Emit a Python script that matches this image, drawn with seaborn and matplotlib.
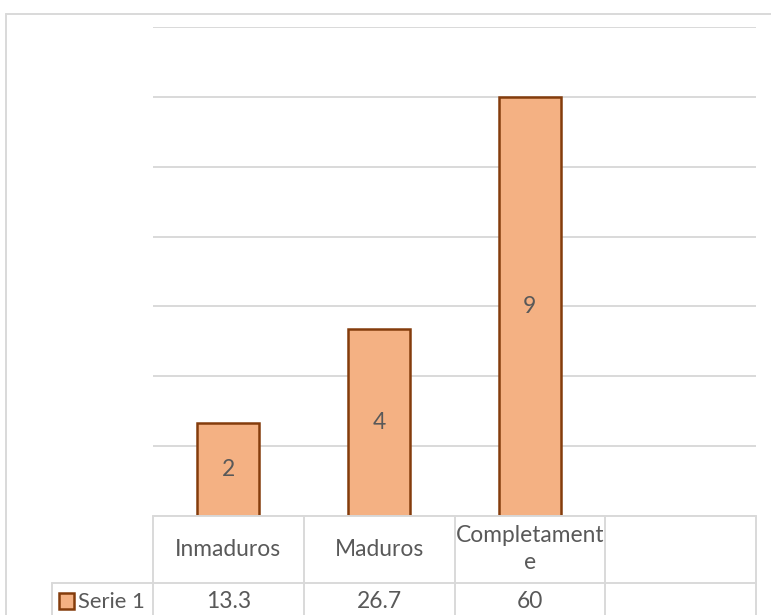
import matplotlib.pyplot as plt
import matplotlib.transforms as mtransforms
from matplotlib.lines import Line2D
from matplotlib.patches import Rectangle
import seaborn as sns

# data
categories = ["Inmaduros", "Maduros", "Completamente"]
table_labels = ["Inmaduros", "Maduros", "Completament\ne"]
percent = [13.3, 26.7, 60]
counts = [2, 4, 9]
series_name = "Serie 1"

FILL = "#F4B183"
EDGE = "#843C0C"
GRID = "#D9D9D9"
TEXT = "#595959"
FS = 16.4

sns.set_theme(style="white")
plt.rcParams["font.family"] = ["Lato", "DejaVu Sans"]

W, H = 771, 615
fig = plt.figure(figsize=(W / 100, H / 100), dpi=100)


def fx(px):
    return px / W


def fy(py):
    return 1 - py / H


ax = fig.add_axes([fx(153), fy(516), fx(756) - fx(153), fy(27) - fy(516)])

sns.barplot(x=categories, y=percent, ax=ax, color=FILL, saturation=1,
            edgecolor=EDGE, linewidth=1.8, width=0.41)
ax.bar_label(ax.containers[0], labels=[str(c) for c in counts],
             label_type="center", color=TEXT, fontsize=FS)

ax.set_xlim(-0.5, 3.5)
ax.set_ylim(0, 70)
ax.set_yticks(range(0, 71, 10))
ax.set_xticks([])
ax.grid(axis="y", color=GRID, linewidth=1.4)
ax.set_axisbelow(True)
ax.tick_params(left=False, labelleft=False, bottom=False, labelbottom=False)
ax.set_xlabel("")
ax.set_ylabel("")
for s in ax.spines.values():
    s.set_visible(False)

# data table under the plot
blend = mtransforms.blended_transform_factory(ax.transData, fig.transFigure)
bounds = [i - 0.5 for i in range(len(categories) + 2)]
line_kw = dict(color=GRID, linewidth=1.4, clip_on=False)

fig.add_artist(Line2D([bounds[0], bounds[-1]], [fy(516), fy(516)], transform=blend, **line_kw))
fig.add_artist(Line2D([bounds[0], bounds[-1]], [fy(583), fy(583)], transform=blend, **line_kw))
fig.add_artist(Line2D([fx(52), fx(153)], [fy(583), fy(583)], transform=fig.transFigure, **line_kw))
fig.add_artist(Line2D([fx(52), fx(52)], [fy(583), 0], transform=fig.transFigure, **line_kw))
for b in bounds:
    fig.add_artist(Line2D([b, b], [fy(516), 0], transform=blend, **line_kw))

for i, (lab, val) in enumerate(zip(table_labels, percent)):
    fig.text(i, fy(549), lab, transform=blend, ha="center", va="center",
             color=TEXT, fontsize=FS, linespacing=1.35)
    fig.text(i, fy(602), f"{val:g}", transform=blend, ha="center", va="center",
             color=TEXT, fontsize=FS)

# legend key in the table
fig.add_artist(Rectangle((fx(59), fy(609)), fx(74) - fx(59), fy(593) - fy(609),
                         transform=fig.transFigure, facecolor=FILL, edgecolor=EDGE,
                         linewidth=1.8))
fig.text(fx(78), fy(602), series_name, ha="left", va="center", color=TEXT, fontsize=15.8)

# chart area border (left and top visible)
fig.add_artist(Line2D([fx(6), fx(6)], [fy(14), 0], transform=fig.transFigure, **line_kw))
fig.add_artist(Line2D([fx(6), 1], [fy(14), fy(14)], transform=fig.transFigure, **line_kw))

fig.savefig("out.png", dpi=100)
